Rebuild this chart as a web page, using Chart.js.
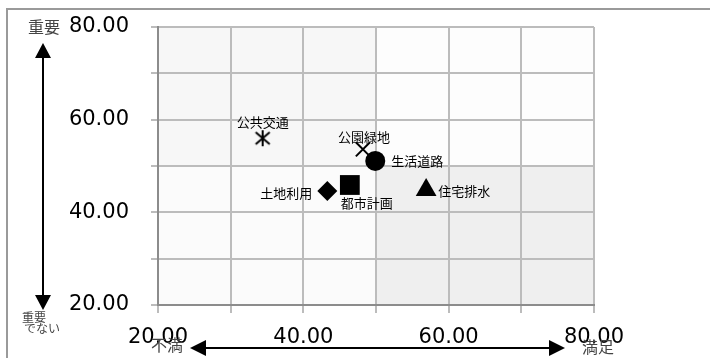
<!DOCTYPE html>
<html lang="ja">
<head>
<meta charset="utf-8">
<script src="https://cdn.jsdelivr.net/npm/chart.js@4/dist/chart.umd.min.js"></script>
<style>
  html, body { margin: 0; padding: 0; background: #ffffff; }
  #wrap { width: 710px; height: 358px; }
</style>
</head>
<body>
<div id="wrap"><canvas id="chart" width="710" height="358"></canvas></div>
<script>
// Policy items: satisfaction (x) vs. importance (y)
const items = ['公共交通', '公園緑地', '生活道路', '土地利用', '都市計画', '住宅排水'];
const satisfaction = [34.4, 48.2, 49.9, 43.3, 46.4, 56.9];
const importance = [56.0, 53.6, 51.1, 44.6, 45.9, 44.8];

// Axis range and labelled ticks
const axisMin = 20;
const axisMax = 80;
const gridStep = 10;
const labelledTicks = [20, 40, 60, 80];
// Quadrant split
const midSatisfaction = 50;
const midImportance = 50;

// Marker shapes and where each name sits next to its marker
const markerStyles = ['asterisk', 'crossRot', 'circle', 'rectRot', 'rect', 'triangle'];
const markerRadius = [8, 10, 10, 10, 14, 12];
const labelPlacement = ['above', 'aboveNear', 'right', 'left', 'belowRight', 'rightNear'];

const JP_FONT = '"Noto Sans CJK JP", "Noto Sans", sans-serif';
const NUM_FONT = '"DejaVu Sans", "Open Sans", sans-serif';

// Asterisk marker (X with a vertical stroke)
function makeAsterisk() {
  const c = document.createElement('canvas');
  c.width = 20; c.height = 20;
  const g = c.getContext('2d');
  g.strokeStyle = '#000';
  g.lineWidth = 2;
  g.beginPath();
  g.moveTo(3, 4); g.lineTo(17, 16);
  g.moveTo(17, 4); g.lineTo(3, 16);
  g.moveTo(10, 2); g.lineTo(10, 18);
  g.stroke();
  return c;
}
const asterisk = makeAsterisk();

const datasets = items.map((name, i) => {
  const style = markerStyles[i] === 'asterisk' ? asterisk : markerStyles[i];
  const open = markerStyles[i] === 'crossRot';
  return {
    label: name,
    data: [{ x: satisfaction[i], y: importance[i] }],
    pointStyle: style,
    pointRadius: markerRadius[i],
    pointHoverRadius: markerRadius[i],
    backgroundColor: '#000',
    borderColor: '#000',
    borderWidth: open ? 2 : 0,
    placement: labelPlacement[i]
  };
});

// Quadrant shading plus the outer frame
const backdrop = {
  id: 'backdrop',
  beforeDraw(chart) {
    const { ctx, scales: { x, y } } = chart;
    const x0 = x.getPixelForValue(axisMin), x1 = x.getPixelForValue(midSatisfaction), x2 = x.getPixelForValue(axisMax);
    const y0 = y.getPixelForValue(axisMax), y1 = y.getPixelForValue(midImportance), y2 = y.getPixelForValue(axisMin);
    ctx.save();
    ctx.fillStyle = '#f7f7f7'; ctx.fillRect(x0, y0, x1 - x0, y1 - y0);
    ctx.fillStyle = '#fdfdfd'; ctx.fillRect(x1, y0, x2 - x1, y1 - y0);
    ctx.fillStyle = '#fbfbfb'; ctx.fillRect(x0, y1, x1 - x0, y2 - y1);
    ctx.fillStyle = '#efefef'; ctx.fillRect(x1, y1, x2 - x1, y2 - y1);
    // frame
    ctx.strokeStyle = '#9a9a9a';
    ctx.lineWidth = 2;
    ctx.beginPath();
    ctx.moveTo(7, chart.height); ctx.lineTo(7, 9); ctx.lineTo(chart.width, 9);
    ctx.stroke();
    ctx.restore();
  }
};

// Name labels beside each marker
const pointNames = {
  id: 'pointNames',
  afterDatasetsDraw(chart) {
    const { ctx } = chart;
    ctx.save();
    ctx.font = '13px ' + JP_FONT;
    ctx.fillStyle = '#000';
    chart.data.datasets.forEach((ds, i) => {
      const pt = chart.getDatasetMeta(i).data[0];
      let tx = pt.x, ty = pt.y, align = 'center';
      switch (ds.placement) {
        case 'above': ty -= 16; break;
        case 'aboveNear': tx += 1; ty -= 12; break;
        case 'right': tx += 16; align = 'left'; break;
        case 'left': tx -= 15; ty += 2; align = 'right'; break;
        case 'belowRight': tx += 17; ty += 18; break;
        case 'rightNear': tx += 12; ty += 1; align = 'left'; break;
      }
      ctx.textAlign = align;
      ctx.textBaseline = 'middle';
      ctx.fillText(ds.label, tx, ty);
    });
    ctx.restore();
  }
};

// Direction arrows and their captions
function arrowHead(ctx, tipX, tipY, dx, dy, len, half) {
  const bx = tipX - dx * len, by = tipY - dy * len;
  ctx.beginPath();
  ctx.moveTo(tipX, tipY);
  ctx.lineTo(bx - dy * half, by + dx * half);
  ctx.lineTo(bx + dy * half, by - dx * half);
  ctx.closePath();
  ctx.fill();
}
const arrows = {
  id: 'arrows',
  afterDraw(chart) {
    const { ctx, chartArea, scales: { x } } = chart;
    ctx.save();
    ctx.strokeStyle = '#000';
    ctx.fillStyle = '#000';
    ctx.lineWidth = 2;
    // vertical: importance
    const vx = 43, vTop = chartArea.top + 16, vBot = chartArea.bottom + 5;
    ctx.beginPath(); ctx.moveTo(vx, vTop + 10); ctx.lineTo(vx, vBot - 10); ctx.stroke();
    arrowHead(ctx, vx, vTop, 0, -1, 15, 8);
    arrowHead(ctx, vx, vBot, 0, 1, 15, 8);
    // horizontal: satisfaction
    const hy = 348, hL = x.getPixelForValue(axisMin) + 32, hR = x.getPixelForValue(axisMax) - 29;
    ctx.beginPath(); ctx.moveTo(hL + 10, hy); ctx.lineTo(hR - 10, hy); ctx.stroke();
    arrowHead(ctx, hL, hy, -1, 0, 16, 8);
    arrowHead(ctx, hR, hy, 1, 0, 16, 8);

    ctx.fillStyle = '#444';
    ctx.textBaseline = 'top';
    ctx.textAlign = 'left';
    ctx.font = '16px ' + JP_FONT;
    ctx.fillText('重要', 28, 19);
    ctx.font = '12px ' + JP_FONT;
    ctx.fillText('重要', 22, 311);
    ctx.fillText('でない', 24, 322);
    ctx.font = '16px ' + JP_FONT;
    ctx.fillText('不満', 151, 337);
    ctx.fillText('満足', 582, 339);
    ctx.restore();
  }
};

const tickLabel = v => labelledTicks.includes(v) ? v.toFixed(2) : '';

new Chart(document.getElementById('chart'), {
  type: 'scatter',
  data: { datasets },
  options: {
    responsive: false,
    animation: false,
    devicePixelRatio: 1,
    layout: { padding: { top: 27, right: 116, bottom: 0, left: 0 } },
    plugins: { legend: { display: false }, tooltip: { enabled: false } },
    scales: {
      x: {
        type: 'linear', min: axisMin, max: axisMax,
        afterFit(scale) { scale.height = 53; scale.paddingLeft = 0; scale.paddingRight = 0; },
        ticks: { stepSize: gridStep, callback: tickLabel, color: '#000', padding: 12, maxRotation: 0, autoSkip: false,
                 font: { family: NUM_FONT, size: 21 } },
        grid: { color: '#bcbcbc', lineWidth: 2, tickLength: 8, tickColor: '#bcbcbc' },
        border: { color: '#8c8c8c', width: 2 }
      },
      y: {
        type: 'linear', min: axisMin, max: axisMax,
        afterFit(scale) { scale.width = 158; scale.paddingTop = 0; scale.paddingBottom = 0; },
        ticks: { stepSize: gridStep, callback: tickLabel, color: '#000', padding: 22, autoSkip: false,
                 font: { family: NUM_FONT, size: 21 } },
        grid: { color: '#bcbcbc', lineWidth: 2, tickLength: 7, tickColor: '#bcbcbc' },
        border: { color: '#8c8c8c', width: 2 }
      }
    }
  },
  plugins: [backdrop, pointNames, arrows]
});
</script>
</body>
</html>
